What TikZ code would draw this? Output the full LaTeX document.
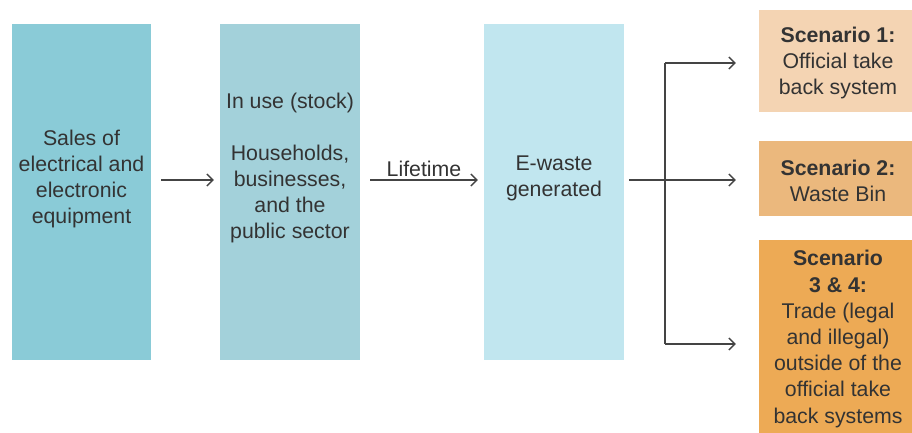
\documentclass[tikz,border=0pt]{standalone}
\usepackage{fontspec}
\setmainfont{Liberation Sans}
\usetikzlibrary{arrows.meta}
\definecolor{cA}{HTML}{8ACBD7}
\definecolor{cB}{HTML}{A3D1DA}
\definecolor{cC}{HTML}{C1E6EF}
\definecolor{sA}{HTML}{F4D4B3}
\definecolor{sB}{HTML}{EBB87D}
\definecolor{sC}{HTML}{EDAA55}
\definecolor{txt}{HTML}{333333}
\definecolor{ln}{HTML}{444444}
\begin{document}
\begin{tikzpicture}[x=1pt,y=-1pt,
  box/.style={draw=none,inner sep=0pt,minimum width=#1},
  lbl/.style={text=txt,align=center,font=\fontsize{21.3}{26.2}\selectfont,inner sep=0pt},
  arr/.style={draw=ln,line width=1.3pt,-{Straight Barb[length=6pt,width=12pt]}},
  ln/.style={draw=ln,line width=1.3pt}]
\useasboundingbox (0,0) rectangle (912,433);
\node[box=139pt,minimum height=336pt,fill=cA] (b1) at (81.5,192) {};
\node[box=140pt,minimum height=336pt,fill=cB] (b2) at (290,192) {};
\node[box=140pt,minimum height=336pt,fill=cC] (b3) at (554,192) {};
\node[box=153pt,minimum height=102pt,fill=sA] (s1) at (835.5,61) {};
\node[box=153pt,minimum height=75pt,fill=sB] (s2) at (835.5,178.5) {};
\node[box=153pt,minimum height=193pt,fill=sC] (s3) at (835.5,336.5) {};
\node[lbl] (t1) at (81.5,179) {Sales of\\electrical and\\electronic\\equipment};
\node[lbl] (t2) at (290,168) {In use (stock)\\[26pt]Households,\\businesses,\\and the\\public sector};
\node[lbl] (t3) at (554,178) {E-waste\\generated};
\node[lbl] (u1) at (838,63) {\textbf{Scenario 1:}\\Official take\\back system};
\node[lbl] (u2) at (838,181) {\textbf{Scenario 2:}\\Waste Bin};
\node[lbl] (u3) at (838,339) {\textbf{Scenario}\\\textbf{3 \& 4:}\\Trade (legal\\and illegal)\\outside of the\\official take\\back systems};
\coordinate (ly) at (0,180);
\coordinate (fork) at (665,180);
\coordinate (ytop) at (0,63);
\coordinate (ybot) at (0,344);
\draw[arr] ([xshift=10pt]b1.east |- ly) -- ([xshift=-6pt]b2.west |- ly);
\draw[arr] ([xshift=10pt]b2.east |- ly) -- node[above=3pt,lbl] (lt) {Lifetime} ([xshift=-6pt]b3.west |- ly);
\draw[arr] ([xshift=5pt]b3.east |- ly) -- ([xshift=-23pt]s2.west |- ly);
\draw[ln] (fork |- ytop) -- (fork |- ybot);
\draw[arr] (fork |- ytop) -- ([xshift=-23pt]s1.west |- ytop);
\draw[arr] (fork |- ybot) -- ([xshift=-23pt]s3.west |- ybot);
\end{tikzpicture}
\end{document}
